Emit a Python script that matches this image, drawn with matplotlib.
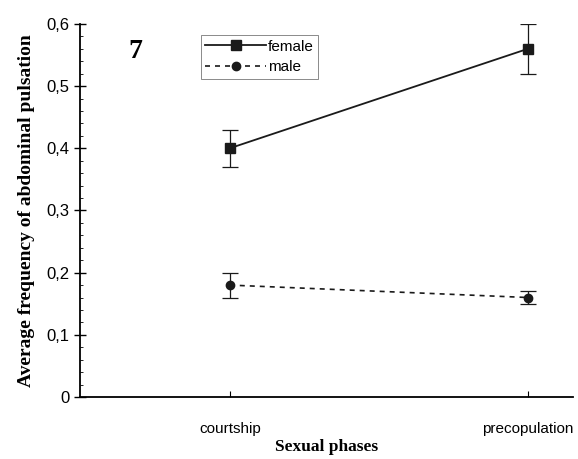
import numpy as np
import matplotlib.pyplot as plt
from matplotlib.lines import Line2D
from matplotlib.ticker import FuncFormatter, MultipleLocator

phases = ['courtship', 'precopulation']
female = [0.40, 0.56]
female_err = [0.03, 0.04]
male = [0.18, 0.16]
male_err = [0.02, 0.01]

fig = plt.figure(figsize=(5.78, 4.59), dpi=100)
ax = fig.add_axes([0.138, 0.135, 0.853, 0.813])

x = np.arange(len(phases))
ax.errorbar(x, female, yerr=female_err, color='#1a1a1a', lw=1.3, marker='s', ms=7,
            capsize=6, elinewidth=0.9, capthick=0.9)
ax.errorbar(x, male, yerr=male_err, color='#1a1a1a', lw=1.2, ls=(0, (3, 3)), marker='o', ms=6,
            capsize=6, elinewidth=0.9, capthick=0.9)

ax.set_xlim(-0.503, 1.15)
ax.set_ylim(0, 0.6)
ax.set_xticks(x)
ax.set_xticklabels(phases, fontsize=11, family='Liberation Sans')
ax.yaxis.set_major_locator(MultipleLocator(0.1))
ax.yaxis.set_minor_locator(MultipleLocator(0.02))
ax.yaxis.set_major_formatter(FuncFormatter(lambda v, p: ('%.1f' % v).replace('.', ',') if v > 0 else '0'))
for lab in ax.get_yticklabels():
    lab.set_family('Liberation Sans')
    lab.set_fontsize(12)
ax.tick_params(axis='y', which='major', direction='inout', length=8, width=1)
ax.tick_params(axis='y', which='minor', direction='in', length=2, width=0.6)
ax.tick_params(axis='x', direction='in', length=4, pad=18)
ax.spines['top'].set_visible(False)
ax.spines['right'].set_visible(False)
ax.spines['left'].set_linewidth(1.3)
ax.spines['bottom'].set_linewidth(1.3)

ax.set_ylabel('Average frequency of abdominal pulsation', family='Liberation Serif',
              fontweight='bold', fontsize=14, labelpad=8)
ax.set_xlabel('Sexual phases', family='Liberation Serif', fontweight='bold', fontsize=12.5, labelpad=2)

ax.text(-0.34, 0.545, '7', family='Liberation Serif', fontweight='bold', fontsize=20)

handles = [Line2D([], [], color='#1a1a1a', lw=1.3, marker='s', ms=7),
           Line2D([], [], color='#1a1a1a', lw=1.2, ls=(0, (3, 3)), marker='o', ms=6)]
leg = ax.legend(handles, ['female', 'male'], loc='upper left', bbox_to_anchor=(0.23, 0.99),
                frameon=True, fancybox=False,
                prop={'family': 'Liberation Sans', 'size': 11}, handlelength=4,
                handletextpad=0.1, borderpad=0.3, labelspacing=0.4)
leg.get_frame().set_edgecolor('#555555')
leg.get_frame().set_linewidth(0.6)

fig.savefig('out.png', dpi=100)
